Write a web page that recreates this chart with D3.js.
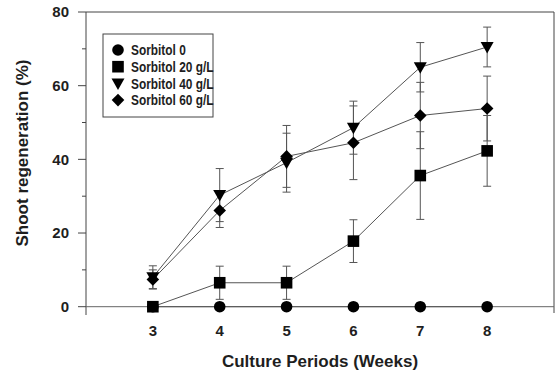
<!DOCTYPE html>
<html>
<head>
<meta charset="utf-8">
<script src="https://cdn.jsdelivr.net/npm/d3@7"></script>
<style>
  html, body { margin: 0; padding: 0; background: #fff; }
  svg { display: block; }
</style>
</head>
<body>
<svg id="chart" width="555" height="376"></svg>
<script>
(function () {
  'use strict';

  // Culture period (weeks)
  const weeks = [3, 4, 5, 6, 7, 8];
  const yTicks = [0, 20, 40, 60, 80];
  const yMinor = [10, 30, 50, 70];

  // shoot regeneration (%) and error (±) per treatment
  const sorb0 = [0, 0, 0, 0, 0, 0];
  const sorb0Err = [0, 0, 0, 0, 0, 0];
  const sorb20 = [0, 6.5, 6.5, 17.8, 35.6, 42.3];
  const sorb20Err = [0, 4.5, 4.5, 5.8, 11.9, 9.6];
  const sorb40 = [8.0, 30.3, 39.1, 48.6, 65.0, 70.5];
  const sorb40Err = [3.1, 7.2, 8.0, 7.2, 6.7, 5.4];
  const sorb60 = [7.4, 26.1, 40.8, 44.5, 51.9, 53.8];
  const sorb60Err = [2.6, 4.6, 8.4, 10.0, 9.0, 8.8];

  const labels = ['Sorbitol 0', 'Sorbitol 20 g/L', 'Sorbitol 40 g/L', 'Sorbitol 60 g/L'];
  const symbols = ['circle', 'square', 'triangleDown', 'diamond'];

  const series = [
    { label: labels[0], sym: symbols[0], vals: sorb0, err: sorb0Err },
    { label: labels[1], sym: symbols[1], vals: sorb20, err: sorb20Err },
    { label: labels[2], sym: symbols[2], vals: sorb40, err: sorb40Err },
    { label: labels[3], sym: symbols[3], vals: sorb60, err: sorb60Err },
  ];

  const svg = d3.select('#chart');
  const font = '"Liberation Sans", Arial, sans-serif';
  const ink = '#1e1e1e';
  const lineCol = '#555';

  const left = 86, right = 554, top = 12, frameBottom = 315;
  const x = d3.scaleLinear().domain([2, 9]).range([left, right]);
  const y = d3.scaleLinear().domain([0, 80]).range([306.7, top]);

  // markers
  function marker(g, sym, cx, cy) {
    if (sym === 'circle') {
      g.append('circle').attr('cx', cx).attr('cy', cy).attr('r', 5.8).attr('fill', '#000');
    } else if (sym === 'square') {
      g.append('rect').attr('x', cx - 5.8).attr('y', cy - 5.8).attr('width', 11.6).attr('height', 11.6).attr('fill', '#000');
    } else if (sym === 'triangleDown') {
      g.append('path').attr('d', `M${cx - 6.5},${cy - 5} L${cx + 6.5},${cy - 5} L${cx},${cy + 6.5} Z`).attr('fill', '#000');
    } else {
      g.append('path').attr('d', `M${cx},${cy - 6.3} L${cx + 6.3},${cy} L${cx},${cy + 6.3} L${cx - 6.3},${cy} Z`).attr('fill', '#000');
    }
  }

  // frame: top, left, right lines (no bottom), x axis at 0
  const frame = svg.append('g').attr('stroke', '#444').attr('stroke-width', 1).attr('fill', 'none');
  frame.append('line').attr('x1', left).attr('x2', right).attr('y1', top).attr('y2', top);
  frame.append('line').attr('x1', left).attr('x2', left).attr('y1', top).attr('y2', frameBottom);
  frame.append('line').attr('x1', right).attr('x2', right).attr('y1', top).attr('y2', frameBottom - 2);
  frame.append('line').attr('x1', left).attr('x2', right).attr('y1', y(0)).attr('y2', y(0)).attr('stroke', '#666');

  // y axis ticks
  const yAx = svg.append('g');
  yTicks.forEach((v) => {
    yAx.append('line').attr('x1', left - 8).attr('x2', left).attr('y1', y(v)).attr('y2', y(v))
      .attr('stroke', '#444');
    yAx.append('text').attr('x', left - 17).attr('y', y(v)).attr('dy', '0.36em')
      .attr('text-anchor', 'end').style('font-family', font).style('font-weight', 'bold')
      .style('font-size', '15px').attr('fill', ink).text(v);
  });
  yMinor.forEach((v) => {
    yAx.append('line').attr('x1', left - 4).attr('x2', left).attr('y1', y(v)).attr('y2', y(v))
      .attr('stroke', '#444');
  });

  // x tick labels
  weeks.forEach((w) => {
    svg.append('text').attr('x', x(w)).attr('y', 336).attr('text-anchor', 'middle')
      .style('font-family', font).style('font-weight', 'bold').style('font-size', '15px')
      .attr('fill', ink).text(w);
  });

  // titles
  svg.append('text').attr('x', (left + right) / 2).attr('y', 367).attr('text-anchor', 'middle')
    .style('font-family', font).style('font-weight', 'bold').style('font-size', '17px')
    .attr('fill', ink).text('Culture Periods (Weeks)');
  svg.append('text').attr('transform', 'translate(28,153) rotate(-90)').attr('text-anchor', 'middle')
    .style('font-family', font).style('font-weight', 'bold').style('font-size', '17px')
    .attr('fill', ink).text('Shoot regeneration (%)');

  // connecting lines
  const line = d3.line().x((d, i) => x(weeks[i])).y((d) => y(d));
  series.forEach((s) => {
    svg.append('path').datum(s.vals).attr('d', line)
      .attr('fill', 'none').attr('stroke', lineCol).attr('stroke-width', 1);
  });

  // error bars
  const cap = 4;
  series.forEach((s) => {
    const g = svg.append('g').attr('stroke', '#555').attr('stroke-width', 1);
    s.vals.forEach((v, i) => {
      const e = s.err[i];
      if (!e) return;
      const cx = x(weeks[i]);
      g.append('line').attr('x1', cx).attr('x2', cx).attr('y1', y(v - e)).attr('y2', y(v + e));
      g.append('line').attr('x1', cx - cap).attr('x2', cx + cap).attr('y1', y(v + e)).attr('y2', y(v + e));
      g.append('line').attr('x1', cx - cap).attr('x2', cx + cap).attr('y1', y(v - e)).attr('y2', y(v - e));
    });
  });

  // markers
  series.forEach((s) => {
    const g = svg.append('g');
    s.vals.forEach((v, i) => marker(g, s.sym, x(weeks[i]), y(v)));
  });

  // legend
  const lg = svg.append('g');
  lg.append('rect').attr('x', 103).attr('y', 34).attr('width', 110).attr('height', 83)
    .attr('fill', '#fff').attr('stroke', '#444').attr('stroke-width', 1);
  series.forEach((s, i) => {
    const ly = 50 + i * 16.7;
    marker(lg, s.sym, 118, ly);
    lg.append('text').attr('x', 131).attr('y', ly).attr('dy', '0.36em')
      .attr('transform', `translate(131,0) scale(0.82,1) translate(-131,0)`)
      .style('font-family', font).style('font-weight', 'bold').style('font-size', '14.5px')
      .attr('fill', ink).text(s.label);
  });
})();
</script>
</body>
</html>
